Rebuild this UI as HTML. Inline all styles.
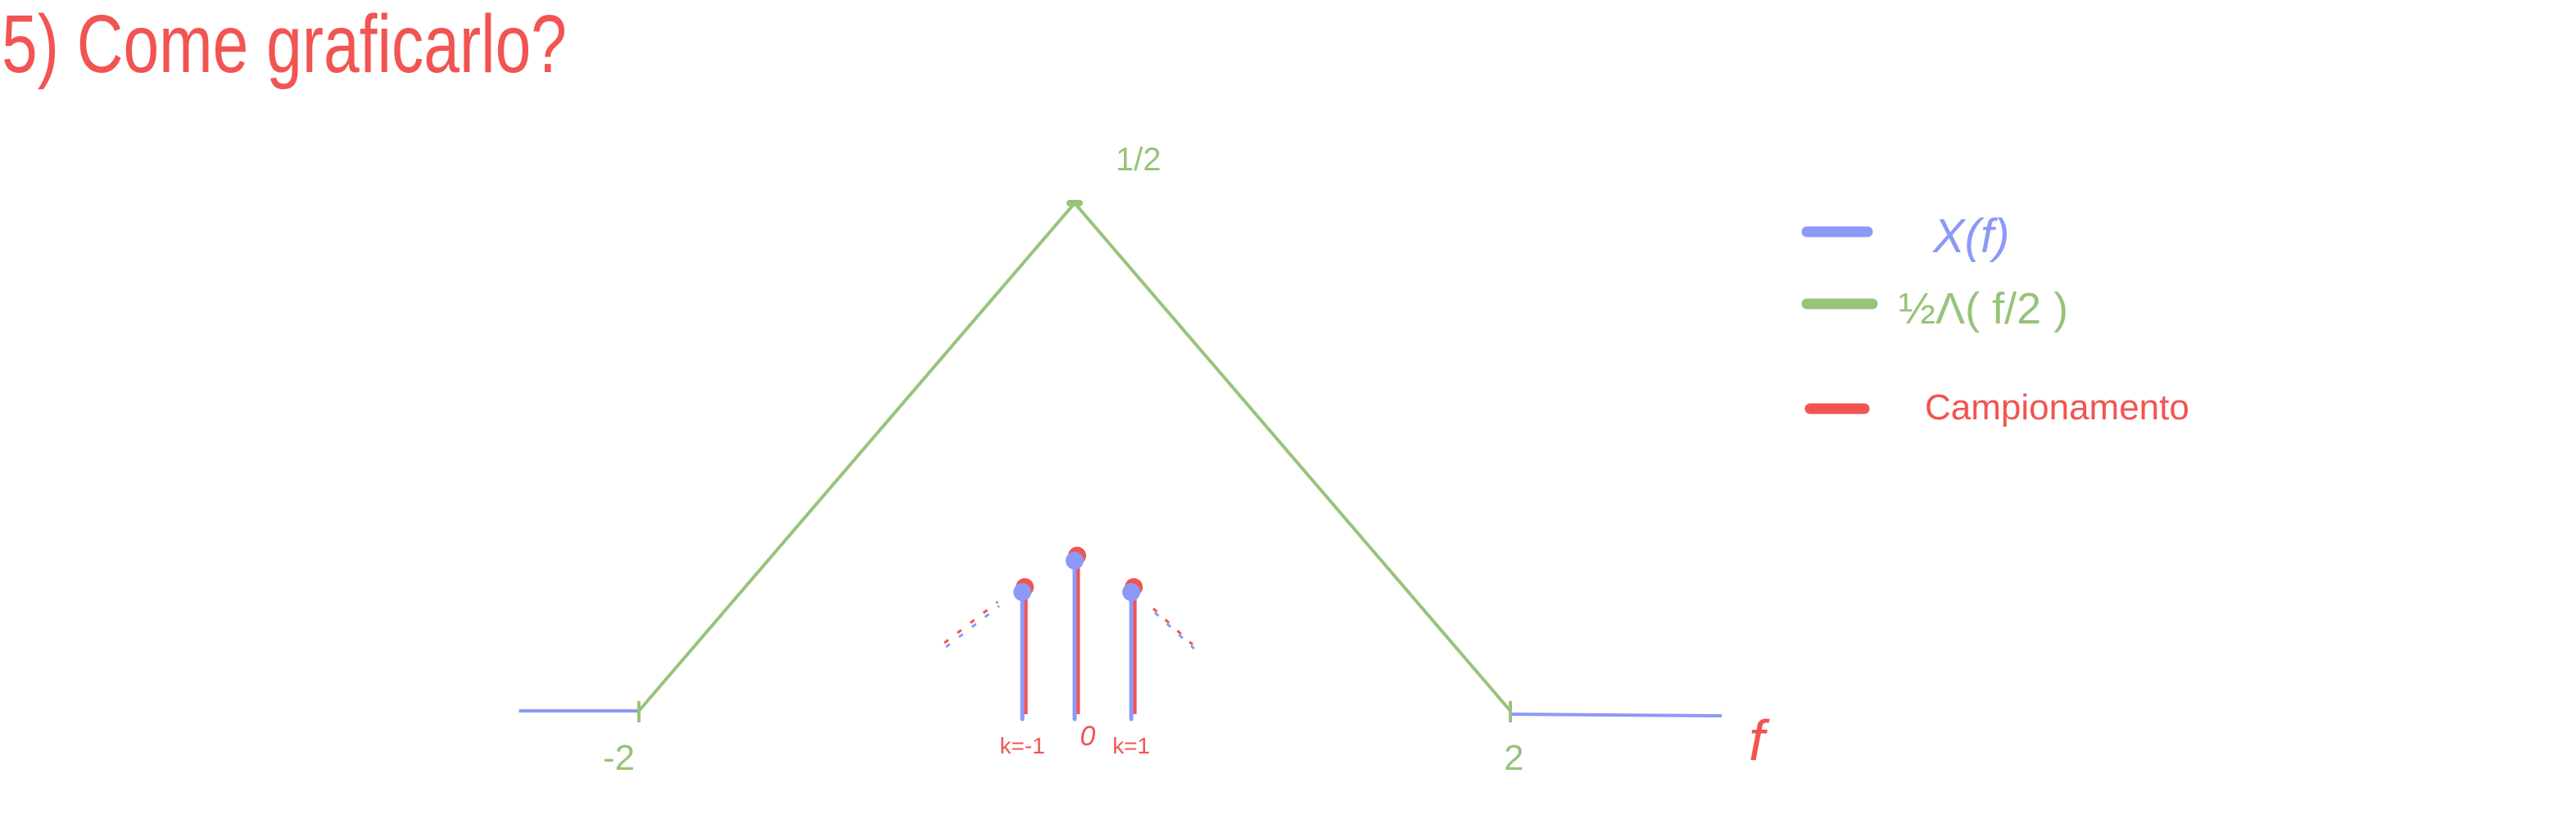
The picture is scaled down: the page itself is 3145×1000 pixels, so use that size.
<!DOCTYPE html>
<html><head><meta charset="utf-8"><style>
html,body{margin:0;padding:0;background:#fff;}
svg{display:block;}
text{font-family:"Liberation Sans",sans-serif;}
</style></head><body>
<svg id="chart" width="3145" height="1000" viewBox="0 0 3145 1000" xmlns="http://www.w3.org/2000/svg">
<rect width="3145" height="1000" fill="#fff"/>
<text x="2" y="88" font-size="100" fill="#f15451" textLength="690" lengthAdjust="spacingAndGlyphs">5) Come graficarlo?</text>
<g id="plot"></g>
<g>
<line x1="2206" y1="283" x2="2280" y2="283" stroke="#8c99f7" stroke-width="13" stroke-linecap="round"/>
<text x="2360" y="308" font-size="58" font-style="italic" fill="#8c99f7">X(f)</text>
<line x1="2206" y1="371" x2="2286" y2="371" stroke="#98c37a" stroke-width="13" stroke-linecap="round"/>
<text x="2318" y="395" font-size="54" fill="#98c37a">½Λ( f/2 )</text>
<line x1="2210" y1="499" x2="2276" y2="499" stroke="#f15451" stroke-width="13" stroke-linecap="round"/>
<text x="2350" y="512" font-size="44" fill="#f15451">Campionamento</text>
</g>
</svg>
<script>
const triF = [-2, 0, 2];
const triV = [0, 0.5, 0];
const sampleK = ["k=-1", "0", "k=1"];
const sampleF = [-0.24, 0, 0.26];
const sampleV = [0.117, 0.148, 0.117];
const xTicks = [-2, 2];
const xTickLabels = ["-2", "2"];
const peakLabel = "1/2";

const NS = "http://www.w3.org/2000/svg";
const xs = f => 1312 + f * 266;
const ys = v => 868 - v * 1240;
const plot = document.getElementById("plot");
function mk(tag, attrs) {
  const e = document.createElementNS(NS, tag);
  for (const k in attrs) e.setAttribute(k, attrs[k]);
  plot.appendChild(e);
  return e;
}
const G = "#98c37a", B = "#8c99f7", R = "#f15451";

// flat X(f) outside
let e = mk("line", {x1: xs(-2.55), y1: ys(0), x2: xs(triF[0]), y2: ys(0), stroke: B, "stroke-width": 4});


e = mk("line", {x1: xs(triF[2]), y1: ys(0) + 4, x2: xs(2.97), y2: ys(0) + 6, stroke: B, "stroke-width": 4});



// triangle
const pts = triF.map((f, i) => xs(f) + "," + ys(triV[i])).join(" ");
e = mk("polyline", {points: pts, fill: "none", stroke: G, "stroke-width": 4, "stroke-linejoin": "round"});


e = mk("line", {x1: xs(0) - 6, y1: ys(0.5), x2: xs(0) + 6, y2: ys(0.5), stroke: G, "stroke-width": 8, "stroke-linecap": "round"});



// ticks
xTicks.forEach((t, i) => {
  let tk = mk("line", {x1: xs(t), y1: ys(0) - 12, x2: xs(t), y2: ys(0) + 14, stroke: G, "stroke-width": 4});
  
  
  let tl = mk("text", {x: xs(t) - (t < 0 ? 44 : 8), y: ys(0) + 72, "font-size": 44, fill: G});
  tl.textContent = xTickLabels[i];
  
  
});
e = mk("text", {x: xs(0) + 50, y: ys(0.5) - 40, "font-size": 40, fill: G});
e.textContent = peakLabel;


e = mk("text", {x: 2135, y: 928, "font-size": 70, "font-style": "italic", fill: R});
e.textContent = "f";



// stems
sampleF.forEach((f, i) => {
  const x = xs(f), y = ys(sampleV[i]);
  let s = mk("line", {x1: x + 4, y1: y - 2, x2: x + 4, y2: ys(0) + 4, stroke: R, "stroke-width": 5});
  
  
  s = mk("line", {x1: x, y1: y, x2: x, y2: ys(0) + 10, stroke: B, "stroke-width": 5, "stroke-linecap": "round"});
  
  
  let c = mk("circle", {cx: x + 3, cy: y - 6, r: 11, fill: R});
  
  
  c = mk("circle", {cx: x, cy: y, r: 11, fill: B});
  
  
  let l = mk("text", {x: x + (i === 1 ? 16 : 0), y: ys(0) + (i === 1 ? 42 : 52), "font-size": i === 1 ? 34 : 28, "font-style": i === 1 ? "italic" : "normal", fill: R, "text-anchor": "middle"});
  l.textContent = sampleK[i];
  
  
});

// dashed continuation hints
[[1155, 790, 1220, 740], [1410, 748, 1458, 792]].forEach(d => {
  let a = mk("line", {x1: d[0], y1: d[1], x2: d[2], y2: d[3], stroke: B, "stroke-width": 3, "stroke-dasharray": "6 14"});
  
  
  a = mk("line", {x1: d[0] - 2, y1: d[1] - 5, x2: d[2] - 2, y2: d[3] - 5, stroke: R, "stroke-width": 3, "stroke-dasharray": "6 14"});
  
  
});
</script>
</body></html>
